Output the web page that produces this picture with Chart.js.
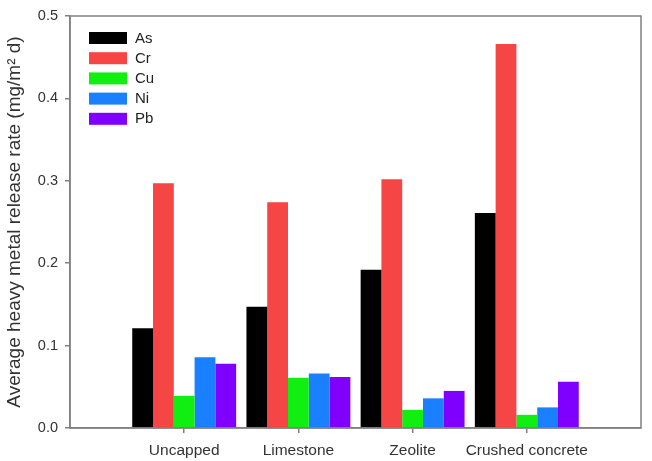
<!DOCTYPE html>
<html>
<head>
<meta charset="utf-8">
<script src="https://cdn.jsdelivr.net/npm/chart.js@4/dist/chart.umd.min.js"></script>
<style>
html,body{margin:0;padding:0;background:#fff;}
#wrap{width:652px;height:461px;position:relative;}
</style>
</head>
<body>
<div id="wrap"><canvas id="c" width="652" height="461"></canvas></div>
<script>
const categories = ['Uncapped', 'Limestone', 'Zeolite', 'Crushed concrete'];
const seriesNames = ['As', 'Cr', 'Cu', 'Ni', 'Pb'];
const As = [0.121, 0.147, 0.192, 0.261];
const Cr = [0.297, 0.274, 0.302, 0.466];
const Cu = [0.039, 0.061, 0.022, 0.016];
const Ni = [0.086, 0.066, 0.036, 0.025];
const Pb = [0.078, 0.062, 0.045, 0.056];
const yTicks = [0, 0.1, 0.2, 0.3, 0.4, 0.5];
const colors = ['#000000', '#F54545', '#11EE11', '#1A80FF', '#7F00FF'];

const labels = [''].concat(categories, ['']);
const pad = arr => [null].concat(arr, [null]);
const seriesValues = [As, Cr, Cu, Ni, Pb];

const datasets = seriesNames.map((n, i) => ({
  label: n,
  data: pad(seriesValues[i]),
  backgroundColor: colors[i],
  borderWidth: 0,
  categoryPercentage: 0.91,
  barPercentage: 1.0
}));

const AXIS = '#808080';
const TXT = '#333333';
const FONT = 'Liberation Sans, Arial, sans-serif';

const framePlugin = {
  id: 'frame',
  afterDatasetsDraw(chart) {
    const {ctx, chartArea: a} = chart;
    ctx.save();
    ctx.strokeStyle = AXIS;
    ctx.lineWidth = 1.5;
    ctx.strokeRect(a.left, a.top, a.right - a.left, a.bottom - a.top);
    const x0 = a.left + 19, y0 = a.top + 22;
    ctx.font = '15px ' + FONT;
    ctx.textBaseline = 'middle';
    chart.data.datasets.forEach((ds, i) => {
      const y = y0 + i * 20.2;
      ctx.fillStyle = ds.backgroundColor;
      ctx.fillRect(x0, y - 6, 38, 12);
      ctx.fillStyle = '#222';
      ctx.fillText(ds.label, x0 + 46, y + 0.5);
    });
    ctx.restore();
  }
};

new Chart(document.getElementById('c'), {
  type: 'bar',
  data: { labels, datasets },
  options: {
    responsive: false,
    animation: false,
    devicePixelRatio: 1,
    layout: { padding: { left: 0, right: 11, top: 16, bottom: 0 } },
    plugins: { legend: { display: false }, tooltip: { enabled: false } },
    scales: {
      x: {
        offset: false,
        grid: {
          offset: false,
          drawOnChartArea: false,
          drawTicks: true,
          tickLength: 5,
          tickColor: c => (c.index === 0 || c.index === labels.length - 1) ? 'rgba(0,0,0,0)' : AXIS,
          lineWidth: 1.5
        },
        border: { display: true, color: AXIS, width: 1.5 },
        ticks: { color: TXT, font: { family: FONT, size: 15.5 }, padding: 8, maxRotation: 0, autoSkip: false },
        afterFit(s) { s.height = 33; }
      },
      y: {
        min: 0, max: 0.5,
        afterBuildTicks(s) { s.ticks = yTicks.map(v => ({ value: v })); },
        grid: { drawOnChartArea: false, drawTicks: true, tickLength: 5, tickColor: AXIS, lineWidth: 1.5 },
        border: { display: true, color: AXIS, width: 1.5 },
        ticks: { color: TXT, font: { family: FONT, size: 14.5 }, padding: 7, callback: v => Number(v).toFixed(1) },
        title: {
          display: true,
          text: 'Average heavy metal release rate (mg/m² d)',
          color: TXT,
          font: { family: FONT, size: 19 },
          padding: { top: 3, bottom: 0 }
        },
        afterFit(s) { s.width = 70; }
      }
    }
  },
  plugins: [framePlugin]
});
</script>
</body>
</html>
